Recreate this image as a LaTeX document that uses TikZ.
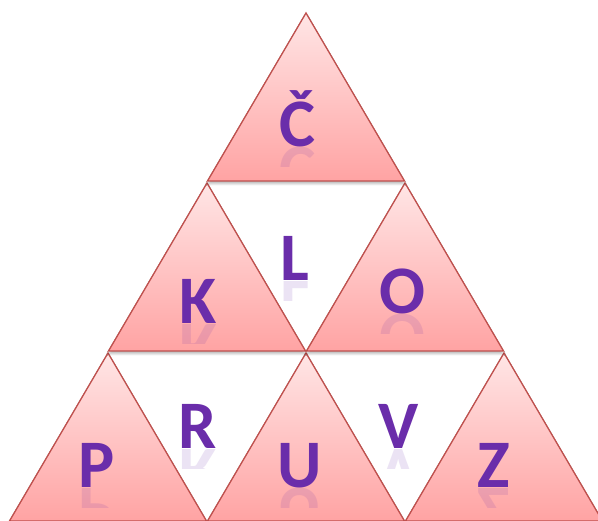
\documentclass[tikz,border=0pt]{standalone}
\usepackage{fontspec}
\setmainfont{Carlito}
\usetikzlibrary{shadows.blur}
\definecolor{triedge}{HTML}{C0504D}
\definecolor{tritop}{HTML}{FFE6E6}
\definecolor{tribot}{HTML}{FFA3A3}
\definecolor{letterc}{HTML}{6A2DAA}
\tikzset{
  tri/.style={draw=triedge, line width=1.3pt, line join=miter, top color=tritop, bottom color=tribot,
    blur shadow={shadow xshift=0pt, shadow yshift=-3pt, shadow blur steps=6, shadow opacity=25}},
  letter/.style={text=letterc, font=\fontsize{68}{68}\selectfont\bfseries, inner sep=0pt, anchor=base},
  refl/.style={letter, opacity=0.13, transform shape}
}
\newcommand{\mytri}[2]{% apex x, apex y (tikz coords)
  \path[tri] (#1,#2) -- ++(-98.5,-168) -- ++(197,0) -- cycle;}
\begin{document}
\begin{tikzpicture}[x=1pt,y=1pt]
\useasboundingbox (0,0) rectangle (598,521);
\clip (0,0) rectangle (598,521);
\fill[white] (0,0) rectangle (598,521);
% bottom row first (so upper shadows fall on them)
\mytri{108}{168}
\mytri{306}{168}
\mytri{504}{168}
% middle row
\mytri{207}{338}
\mytri{405}{338}
% top
\mytri{306}{508}
% letters
\foreach \n/\x/\y/\t in {c/297/374/Č, k/198/197/K, l/295/240/L, o/402/207/O, p/97/33/P, r/198/72/R, u/300/33/U, v/399/72/V, z/494/33/Z}{
  \node[letter] (\n) at (\x,\y) {\t};
  \begin{scope}
    \clip (\x-40,\y-20) rectangle (\x+40,\y);
    \begin{scope}[yscale=-1]
      \node[refl] (\n r) at (\x,-\y+1) {\t};
    \end{scope}
  \end{scope}
}
\end{tikzpicture}
\end{document}
